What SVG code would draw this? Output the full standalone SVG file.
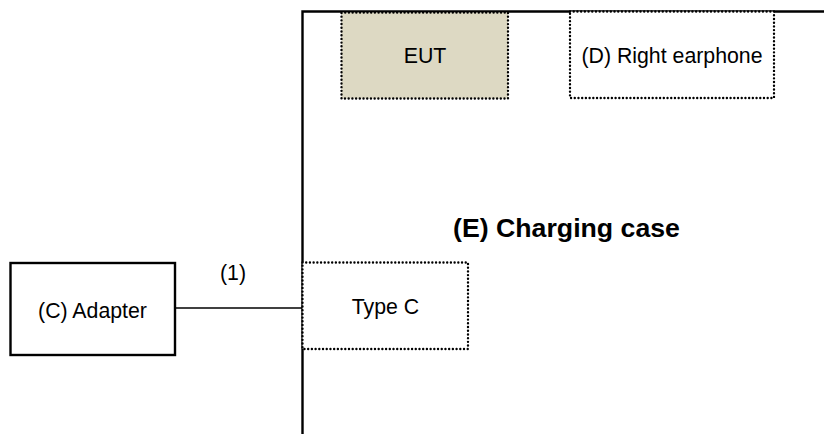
<svg xmlns="http://www.w3.org/2000/svg" width="824" height="434" viewBox="0 0 824 434">
<style>
text{font-family:"Liberation Sans",Arial,sans-serif;font-size:21.3px;fill:#000;text-anchor:middle}
.dot{stroke:#000;stroke-width:2.4;stroke-dasharray:0.01 3.7;stroke-linecap:round;fill:#fff}
.solid{stroke:#000;fill:none}
</style>
<rect width="824" height="434" fill="#fff"/>
<g id="connectors">
<path class="solid" stroke-width="1.7" d="M175 308H302"/>
</g>
<g id="node-case">
<path class="solid" stroke-width="2.4" d="M302.500 434V11.500H824"/>
<text x="566.500" y="236.500" style="font-size:26.7px;font-weight:bold">(E) Charging case</text>
</g>
<g id="node-eut">
<rect class="dot" x="341.500" y="12.500" width="166.500" height="86" style="fill:#ddd9c3"/>
<text x="425" y="63">EUT</text>
</g>
<g id="node-right-earphone">
<rect class="dot" x="570" y="11.500" width="204" height="86.500"/>
<text x="672" y="63">(D) Right earphone</text>
</g>
<g id="node-adapter">
<rect class="solid" stroke-width="2.4" x="10.500" y="263" width="164.500" height="92"/>
<text x="92.500" y="318">(C) Adapter</text>
</g>
<g id="node-type-c">
<rect class="dot" x="302.500" y="262.500" width="165.500" height="86.500"/>
<text x="385.500" y="313.500">Type C</text>
</g>
<g id="label-1">
<text x="233" y="280">(1)</text>
</g>
</svg>
